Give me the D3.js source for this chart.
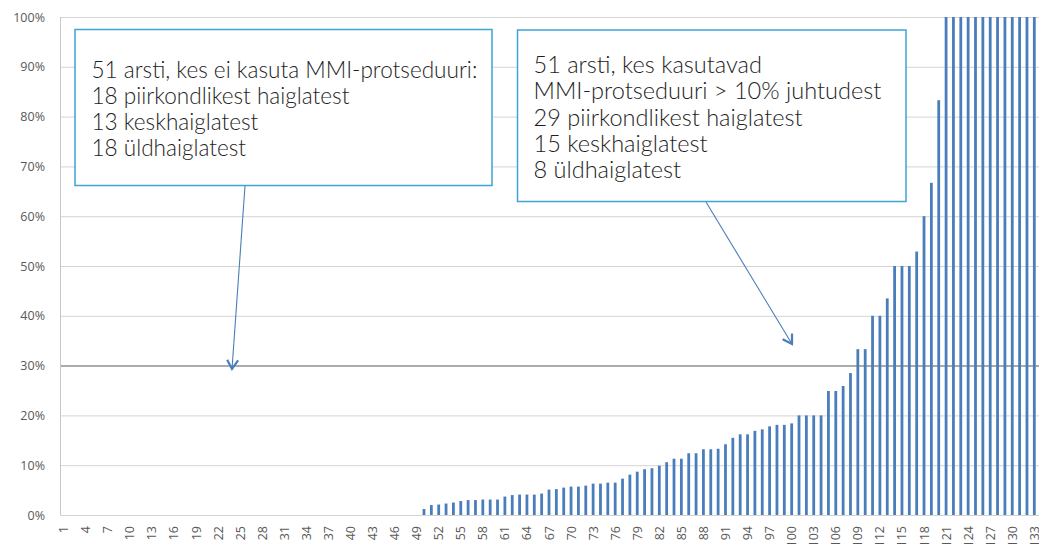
<!DOCTYPE html>
<html>
<head>
<meta charset="utf-8">
<script src="https://cdn.jsdelivr.net/npm/d3@7"></script>
<style>
  html, body { margin: 0; padding: 0; background: #fff; }
  svg { display: block; }
</style>
</head>
<body>
<svg id="chart" width="1039" height="544"></svg>
<script>
// ---- data ----
const categories = d3.range(1, 134);               // doctor index 1..133
const values = [
  0,0,0,0,0,0,0,0,0,0, 0,0,0,0,0,0,0,0,0,0,
  0,0,0,0,0,0,0,0,0,0, 0,0,0,0,0,0,0,0,0,0,
  0,0,0,0,0,0,0,0,0,
  1.2, 2.0, 2.1, 2.3, 2.5, 2.8, 3.0, 3.0, 3.1, 3.1, 3.1,
  3.7, 4.0, 4.1, 4.1, 4.1, 4.3, 5.1, 5.2, 5.5, 5.7, 5.7,
  5.9, 6.3, 6.3, 6.5, 6.5, 7.3, 8.1, 8.7, 9.2, 9.4, 9.9,
  10.6, 11.3, 11.3, 12.4, 12.4, 13.2, 13.2, 13.3, 14.2, 15.5,
  16.2, 16.2, 16.9, 17.2, 17.8, 18.1, 18.1, 18.4,
  20, 20, 20, 20, 24.9, 24.9, 25.9, 28.5, 33.3, 33.3,
  40, 40, 43.5, 50, 50, 50, 52.9, 60, 66.7, 83.3,
  100, 100, 100, 100, 100, 100, 100, 100, 100, 100, 100, 100, 100
];
const yTicks = [0, 10, 20, 30, 40, 50, 60, 70, 80, 90, 100];
const xTickLabels = categories.filter((d, i) => i % 3 === 0);
const box1Lines = [
  "51 arsti, kes ei kasuta MMI-protseduuri:",
  "18 piirkondlikest haiglatest",
  "13 keskhaiglatest",
  "18 üldhaiglatest"
];
const box2Lines = [
  "51 arsti, kes kasutavad",
  "MMI-protseduuri > 10% juhtudest",
  "29 piirkondlikest haiglatest",
  "15 keskhaiglatest",
  "8 üldhaiglatest"
];

// ---- layout ----
const svg = d3.select("#chart");
const plotL = 60, plotR = 1038, plotT = 17, plotB = 515;

const x = d3.scaleBand().domain(categories).range([plotL, plotR])
  .paddingInner(0.62).paddingOuter(0.31);
const y = d3.scaleLinear().domain([0, 100]).range([plotB, plotT]);

const axisFont = "'Open Sans', sans-serif";
const axisColor = "#595959";

// gridlines
svg.append("g").selectAll("line").data(yTicks).join("line")
  .attr("x1", plotL).attr("x2", 1039)
  .attr("y1", d => y(d) + 0.5).attr("y2", d => y(d) + 0.5)
  .attr("stroke", d => d === 30 ? "#ababab" : "#d4d4d4")
  .attr("stroke-width", d => d === 30 ? 2 : 1);

// y axis line
svg.append("line")
  .attr("x1", plotL + 0.5).attr("x2", plotL + 0.5)
  .attr("y1", plotT).attr("y2", plotB)
  .attr("stroke", "#c8c8c8");

// y axis labels
const yAxis = d3.axisLeft(y).tickValues(yTicks).tickFormat(d => d + "%").tickSize(0).tickPadding(15);
const yg = svg.append("g").attr("transform", `translate(${plotL},0)`).call(yAxis);
yg.select(".domain").remove();
yg.selectAll("text").attr("font-family", axisFont).attr("font-size", 12.5).attr("fill", axisColor);

// bars
svg.append("g").selectAll("rect").data(values).join("rect")
  .attr("x", (d, i) => x(categories[i]))
  .attr("width", x.bandwidth())
  .attr("y", d => y(d))
  .attr("height", d => plotB - y(d))
  .attr("fill", "#4a7ebb");

// x axis labels
const xAxis = d3.axisBottom(x).tickValues(xTickLabels).tickSize(0).tickPadding(0);
const xg = svg.append("g").attr("transform", `translate(0,${plotB})`).call(xAxis);
xg.select(".domain").remove();
xg.selectAll("text")
  .attr("font-family", axisFont).attr("font-size", 12.5).attr("fill", axisColor)
  .attr("text-anchor", "end")
  .attr("dy", null).attr("y", 0)
  .attr("transform", "translate(4.5,11) rotate(-90)");

// arrows
const defs = svg.append("defs");
defs.append("marker").attr("id", "chev")
  .attr("markerUnits", "userSpaceOnUse")
  .attr("viewBox", "-12 -8 14 16").attr("markerWidth", 14).attr("markerHeight", 16)
  .attr("refX", 0).attr("refY", 0).attr("orient", "auto")
  .append("path").attr("d", "M-9,-5.5 L0,0 L-9,5.5")
  .attr("fill", "none").attr("stroke", "#4a7ebb").attr("stroke-width", 2.2)
  .attr("stroke-linejoin", "miter");

const arrows = [
  { x1: 245, y1: 186, x2: 232, y2: 369 },
  { x1: 706, y1: 202, x2: 792, y2: 344 }
];
svg.append("g").selectAll("line").data(arrows).join("line")
  .attr("x1", d => d.x1).attr("y1", d => d.y1)
  .attr("x2", d => d.x2).attr("y2", d => d.y2)
  .attr("stroke", "#4a7ebb").attr("stroke-width", 1.1)
  .attr("marker-end", "url(#chev)");

// text boxes
const boxFont = "Lato, 'Open Sans', sans-serif";
function textBox(lines, bx, by, bw, bh, tx, ty, lh, fitIdx, fitW) {
  const g = svg.append("g");
  g.append("rect").attr("x", bx).attr("y", by).attr("width", bw).attr("height", bh)
    .attr("fill", "#fff").attr("stroke", "#3fa3d4").attr("stroke-width", 1.5);
  const t = g.selectAll("text").data(lines).join("text")
    .attr("x", tx).attr("y", (d, i) => ty + i * lh)
    .attr("font-family", boxFont).attr("font-weight", 300)
    .attr("font-size", 24).attr("fill", "#1e1e1e")
    .text(d => d);
  const w = t.nodes()[fitIdx].getComputedTextLength();
  t.attr("font-size", 24 * fitW / w);
}
textBox(box1Lines, 75, 29.5, 417, 156, 91.5, 77.5, 26, 0, 386);
textBox(box2Lines, 517.5, 30, 388.5, 171.5, 533.5, 72.8, 26.4, 1, 348);
</script>
</body>
</html>
